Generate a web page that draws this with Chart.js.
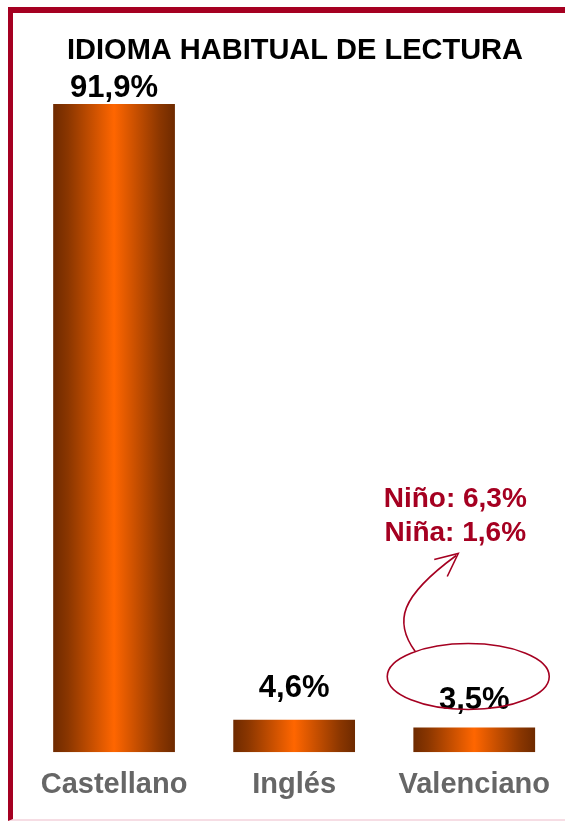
<!DOCTYPE html>
<html>
<head>
<meta charset="utf-8">
<script src="https://cdn.jsdelivr.net/npm/chart.js@4/dist/chart.umd.min.js"></script>
<style>
html,body{margin:0;padding:0;background:#fff;}
#wrap{position:relative;width:565px;height:823px;}
#frame{position:absolute;left:8px;top:7px;width:557px;height:814px;border-top:6px solid #A50021;border-left:5px solid #A50021;border-bottom:2px solid #f6dde4;box-sizing:border-box;}
canvas{position:absolute;left:0;top:0;}
</style>
</head>
<body>
<div id="wrap">
<div id="frame"></div>
<canvas id="c" width="565" height="823"></canvas>
</div>
<script>
const title = "IDIOMA HABITUAL DE LECTURA";
const categories = ["Castellano", "Inglés", "Valenciano"];
const values = [91.9, 4.6, 3.5];
const valueLabels = ["91,9%", "4,6%", "3,5%"];
const noteLines = ["Niño: 6,3%", "Niña: 1,6%"];
const noteIndex = 2;

const FONT = '"Liberation Sans", Arial, sans-serif';
const RED = '#A50021';
const LABEL_GAPS = [7, 23, 19];

function barGradient(ctx){
  const chart = ctx.chart;
  const xs = chart.scales.x;
  if (!xs || !chart.chartArea) return '#FF6600';
  const cx = xs.getPixelForValue(ctx.dataIndex);
  const w = (chart.chartArea.right - chart.chartArea.left) / categories.length * 0.676;
  const g = chart.ctx.createLinearGradient(cx - w/2, 0, cx + w/2, 0);
  g.addColorStop(0, '#6E2A00');
  g.addColorStop(0.12, '#8A3600');
  g.addColorStop(0.5, '#FF6600');
  g.addColorStop(0.88, '#8A3600');
  g.addColorStop(1, '#6E2A00');
  return g;
}

const decor = {
  id: 'decor',
  afterDatasetsDraw(chart){
    const c = chart.ctx;
    const meta = chart.getDatasetMeta(0);
    c.save();
    // title
    c.fillStyle = '#000';
    c.font = 'bold 29px ' + FONT;
    c.textAlign = 'center';
    c.textBaseline = 'alphabetic';
    c.fillText(title, 295, 59);
    // value labels
    c.font = 'bold 31px ' + FONT;
    meta.data.forEach((el, i) => {
      c.fillText(valueLabels[i], el.x, el.y - LABEL_GAPS[i]);
    });
    // annotation
    const el = meta.data[noteIndex];
    const ex = el.x - 6, ey = el.y - 51;
    c.strokeStyle = RED;
    c.lineWidth = 1.6;
    c.beginPath();
    c.ellipse(ex, ey, 81, 33, 0, 0, Math.PI*2);
    c.stroke();
    // curved arrow
    c.beginPath();
    c.moveTo(ex - 53, ey - 25);
    c.bezierCurveTo(ex - 75, ey - 55, ex - 68, ey - 80, ex - 12, ey - 121);
    c.stroke();
    c.beginPath();
    c.moveTo(ex - 34, ey - 117);
    c.lineTo(ex - 10, ey - 123);
    c.lineTo(ex - 21, ey - 100);
    c.stroke();
    // note text
    c.fillStyle = RED;
    c.font = 'bold 28px ' + FONT;
    c.textAlign = 'center';
    noteLines.forEach((t, k) => c.fillText(t, ex - 13, ey - 170 + k * 34));
    c.restore();
  }
};

new Chart(document.getElementById('c'), {
  type: 'bar',
  data: {
    labels: categories,
    datasets: [{
      data: values,
      backgroundColor: barGradient,
      borderWidth: 0,
      barPercentage: 0.676,
      categoryPercentage: 1.0
    }]
  },
  options: {
    responsive: false,
    animation: false,
    devicePixelRatio: 1,
    layout: { padding: { left: 24, right: 0, top: 47, bottom: 6 } },
    plugins: { legend: { display: false }, tooltip: { enabled: false }, title: { display: false } },
    scales: {
      x: {
        grid: { display: false, drawTicks: false },
        border: { display: false },
        ticks: {
          color: '#666',
          font: { family: FONT, size: 29, weight: 'bold' },
          padding: 15,
          maxRotation: 0
        }
      },
      y: {
        display: false,
        min: 0,
        max: 100
      }
    }
  },
  plugins: [decor]
});
</script>
</body>
</html>
